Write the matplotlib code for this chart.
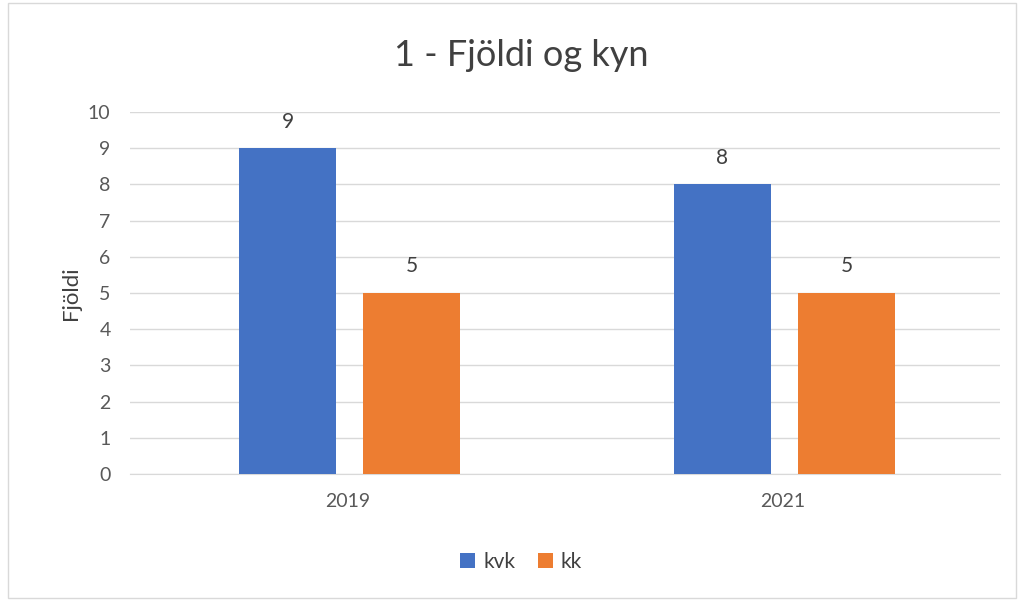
import matplotlib.pyplot as plt
import numpy as np

plt.rcParams['font.family'] = ['Lato', 'DejaVu Sans']

years = ['2019', '2021']
kvk = [9, 8]
kk = [5, 5]
series_names = ['kvk', 'kk']

blue = '#4472C4'
orange = '#ED7D31'
txt = '#595959'

fig = plt.figure(figsize=(10.22, 6.01), dpi=100)
ax = fig.add_axes([0.1272, 0.2113, 0.851, 0.6023])

x = np.arange(len(years)) + 0.005
w = 0.224
off = 0.1425
b1 = ax.bar(x - off, kvk, w, color=blue, label=series_names[0], zorder=3)
b2 = ax.bar(x + off, kk, w, color=orange, label=series_names[1], zorder=3)
for bars in (b1, b2):
    ax.bar_label(bars, padding=12, fontsize=15, color='#404040')

ax.set_xlim(-0.5, 1.5)
ax.set_ylim(0, 10)
ax.set_yticks(range(0, 11))
ax.set_xticks(np.arange(len(years)))
ax.set_xticklabels(years)
ax.tick_params(length=0, labelsize=14, colors=txt)
ax.tick_params(axis='y', pad=14)
ax.tick_params(axis='x', pad=14)
ax.grid(axis='y', color='#D9D9D9', linewidth=1, zorder=0)
for s in ['top', 'right', 'left']:
    ax.spines[s].set_visible(False)
ax.spines['bottom'].set_color('#D9D9D9')

ax.set_ylabel('Fjöldi', fontsize=16, color='#404040', labelpad=5)
fig.text(0.51, 0.908, '1 - Fjöldi og kyn', ha='center', va='center', fontsize=26, color='#404040')

fig.legend(loc='center', bbox_to_anchor=(0.51, 0.065), ncol=2, frameon=False,
           handlelength=0.7, handleheight=0.7, handletextpad=0.4, columnspacing=1.1,
           fontsize=15, labelcolor='#404040')

border = plt.Rectangle((0.008, 0.005), 0.986, 0.99, transform=fig.transFigure,
                       fill=False, edgecolor='#D9D9D9', linewidth=1)
fig.patches.append(border)

fig.savefig('out.png', dpi=100)
